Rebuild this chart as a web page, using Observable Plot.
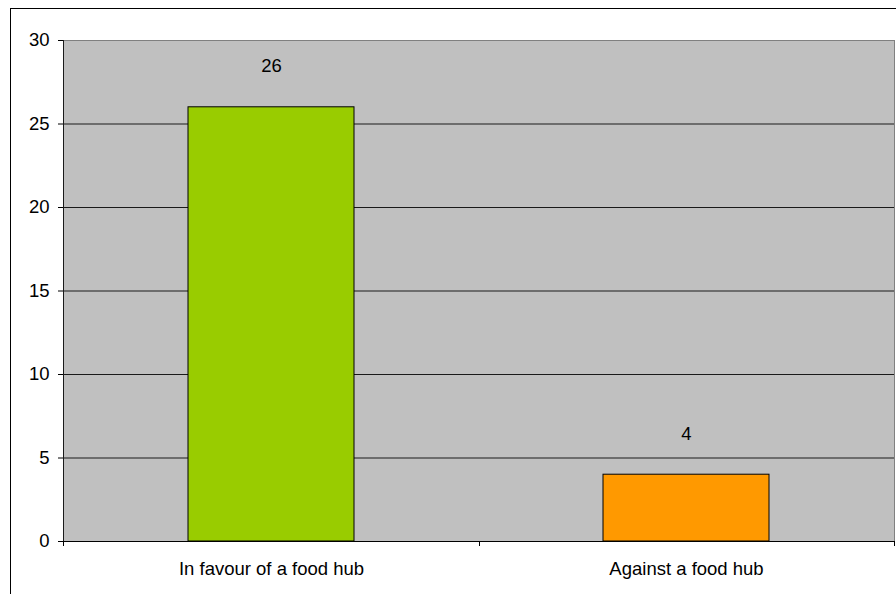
<!DOCTYPE html>
<html>
<head>
<meta charset="utf-8">
<script src="https://cdn.jsdelivr.net/npm/d3@7"></script>
<script src="https://cdn.jsdelivr.net/npm/@observablehq/plot@0.6"></script>
<style>
  html, body { margin: 0; padding: 0; background: #fff; }
  #wrap { position: relative; width: 896px; height: 594px; overflow: hidden; }
  #outer { position: absolute; left: 10px; top: 8px; width: 1000px; height: 700px;
           border-top: 1.5px solid #000; border-left: 1.5px solid #000; }
  #chart { position: absolute; left: 0; top: 0; }
  svg { font-family: "Liberation Sans", Arial, sans-serif; }
</style>
</head>
<body>
<div id="wrap">
  <div id="outer"></div>
  <div id="chart"></div>
</div>
<script>
// Survey responses on a food hub
const categories = ["In favour of a food hub", "Against a food hub"];
const counts = [26, 4];
const barColors = ["#99cc00", "#ff9900"];
const yTicks = [0, 5, 10, 15, 20, 25, 30];

const data = categories.map((c, i) => ({category: c, count: counts[i], color: barColors[i]}));

// Left axis line plus short downward ticks at the boundaries between categories
function categoryBoundaries(index, scales, values, dimensions) {
  const {width, height, marginLeft, marginRight, marginTop, marginBottom} = dimensions;
  const n = categories.length;
  const span = width - marginLeft - marginRight;
  const y0 = height - marginBottom;
  const g = d3.create("svg:g").attr("stroke", "#000").attr("stroke-width", 1);
  const xl = marginLeft + 0.5;
  g.append("line").attr("x1", xl).attr("x2", xl).attr("y1", marginTop).attr("y2", y0)
    .attr("stroke", "#1a1a1a");
  for (let i = 0; i <= n; i++) {
    const x = Math.round(marginLeft + i * span / n) + 0.5;
    g.append("line").attr("x1", x).attr("x2", x).attr("y1", y0).attr("y2", y0 + 5);
  }
  return g.node();
}

const fs = "18.5px";

const chart = Plot.plot({
  width: 896,
  height: 594,
  marginLeft: 63,
  marginRight: 2,
  marginTop: 40,
  marginBottom: 53,
  style: {fontSize: fs, fontFamily: "Liberation Sans, Arial, sans-serif", background: "transparent"},
  x: {domain: categories, paddingInner: 0.6, paddingOuter: 0.3, align: 0.5, label: null},
  y: {domain: [0, 30], label: null},
  marks: [
    Plot.frame({fill: "#c0c0c0", stroke: "#808080"}),
    Plot.ruleY(yTicks.filter(d => d > 0 && d < 30), {stroke: "#1a1a1a", strokeWidth: 1}),
    Plot.barY(data, {x: "category", y: "count", fill: "color", stroke: "#000", strokeWidth: 1}),
    Plot.ruleY([0], {stroke: "#000"}),
    Plot.text(data, {x: "category", y: "count", text: d => String(d.count), lineAnchor: "bottom", dy: -35, fontSize: fs, fill: "#000"}),
    Plot.axisY({ticks: yTicks, tickSize: 5, tickPadding: 9, tickFormat: d => String(d), fontSize: fs, color: "#000", stroke: "#000"}),
    Plot.axisX({tickSize: 0, tickPadding: 20, fontSize: fs, color: "#000"}),
    categoryBoundaries
  ]
});

document.getElementById("chart").appendChild(chart);
</script>
</body>
</html>
